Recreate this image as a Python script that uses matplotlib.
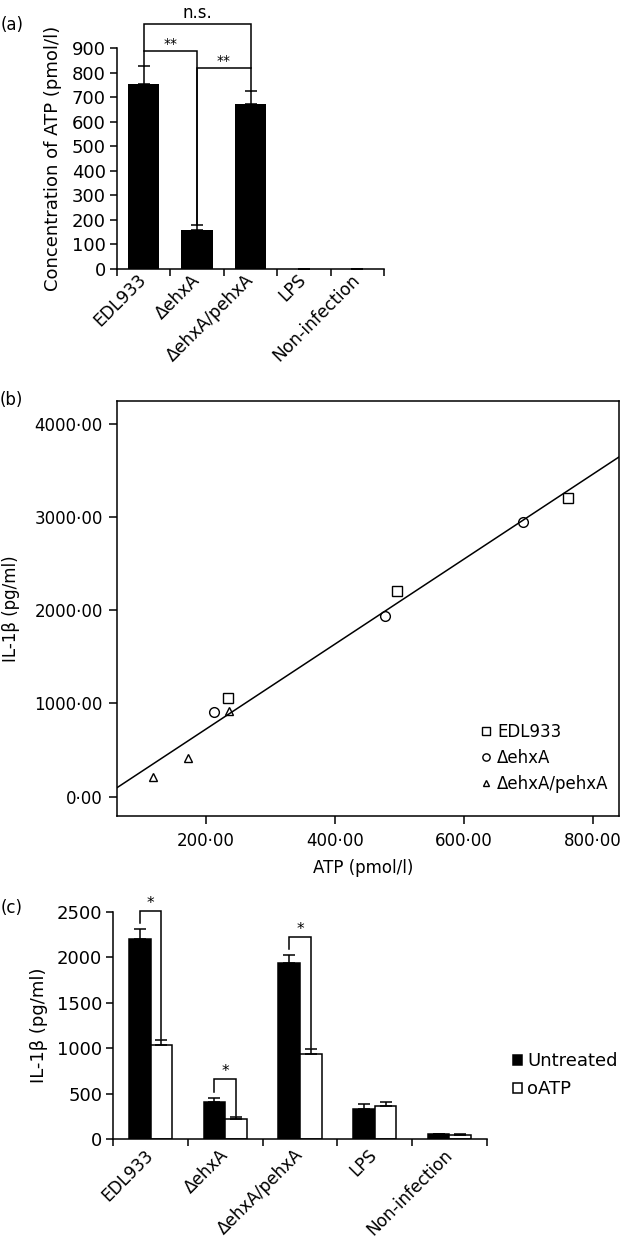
import numpy as np
import matplotlib
matplotlib.use('Agg')
import matplotlib.pyplot as plt
from matplotlib.ticker import FuncFormatter, FixedLocator
from matplotlib.patches import Patch
from matplotlib.transforms import ScaledTranslation

plt.rcParams['font.family'] = ['DejaVu Sans']
plt.rcParams['axes.linewidth'] = 1.1

# (a) ATP
grupos = ['EDL933', 'ΔehxA', 'ΔehxA/pehxA', 'LPS', 'Non-infection']
atp_media = [753, 158, 672, 0, 0]
atp_erro = [73, 20, 53, 0, 0]

# (b) IL-1b vs ATP
atp_edl = [234, 496, 761]
il_edl = [1052, 2207, 3205]
atp_del = [213, 477, 691]
il_del = [905, 1939, 2941]
atp_comp = [119, 173, 236]
il_comp = [214, 417, 916]

# (c) IL-1b com / sem oATP
il_untreated = [2196, 407, 1932, 330, 50]
err_untreated = [110, 48, 95, 51, 4]
il_oatp = [1030, 216, 935, 367, 45]
err_oatp = [59, 26, 58, 44, 5]

W, H = 622, 1242
fig = plt.figure(figsize=(W / 100, H / 100), dpi=100)


def eixo(esq, dir_, topo, base):
    return fig.add_axes([esq / W, 1 - base / H, (dir_ - esq) / W, (base - topo) / H])


def categorias(ax, n, fs, fs_rot, pad, dx):
    ax.set_xlim(-0.5, n - 0.5)
    ax.xaxis.set_major_locator(FixedLocator(np.arange(-0.5, n, 1.0)))
    ax.xaxis.set_major_formatter(FuncFormatter(lambda v, p: ''))
    ax.set_xticks(np.arange(n), minor=True)
    ax.set_xticklabels(grupos, minor=True, rotation=45, ha='right', va='center',
                       rotation_mode='anchor', fontsize=fs_rot)
    for lab in ax.get_xticklabels(minor=True):
        lab.set_transform(lab.get_transform() + ScaledTranslation(dx / 72, 0, fig.dpi_scale_trans))
    ax.tick_params(axis='x', which='minor', length=0, pad=pad)
    ax.tick_params(axis='x', which='major', length=5, width=1.1, direction='out')
    ax.tick_params(axis='y', length=5, width=1.1, direction='out', labelsize=fs, pad=3)
    ax.spines['top'].set_visible(False)
    ax.spines['right'].set_visible(False)


def colchete(ax, x1, x2, y, y1, y2, texto, fs, dy):
    ax.plot([x1, x1, x2, x2], [y1, y, y, y2], color='black', lw=1.1,
            clip_on=False, solid_joinstyle='miter')
    ax.text((x1 + x2) / 2, y + dy, texto, ha='center', va='bottom', fontsize=fs,
            clip_on=False)


# ---------- (a)
ax1 = eixo(117, 384, 48, 269)
x = np.arange(len(grupos))
ax1.bar(x, atp_media, width=0.585, color='black',
        yerr=[np.zeros(len(x)), atp_erro], capsize=4,
        error_kw=dict(ecolor='black', elinewidth=1.1, capthick=1.1))
ax1.set_ylim(0, 900)
ax1.set_yticks(np.arange(0, 901, 100))
categorias(ax1, len(grupos), 13, 12.3, 5.8, 6)
ax1.set_ylabel('Concentration of ATP (pmol/l)', fontsize=13)
ax1.yaxis.set_label_coords(-0.205, 0.5)
topo_a = np.array(atp_media) + np.array(atp_erro)
colchete(ax1, 0, 1, 888, topo_a[0], topo_a[1], '**', 10, 0)
colchete(ax1, 1, 2, 818, topo_a[1], topo_a[2], '**', 10, 0)
colchete(ax1, 0, 2, 997, 888, 818, 'n.s.', 12, 10)

# ---------- (b)
ax2 = eixo(116.7, 618.8, 400.7, 815.7)
ax2.set_xlim(62, 840)
ax2.set_ylim(-205, 4245)
mk = dict(linestyle='none', markerfacecolor='none', markeredgecolor='black',
          markeredgewidth=1.0)
ax2.plot(atp_edl, il_edl, marker='s', markersize=7, label='EDL933', **mk)
ax2.plot(atp_del, il_del, marker='o', markersize=7, label='ΔehxA', **mk)
ax2.plot(atp_comp, il_comp, marker='^', markersize=5.5, label='ΔehxA/pehxA', **mk)
todos_x = np.array(atp_edl + atp_del + atp_comp)
todos_y = np.array(il_edl + il_del + il_comp)
a, b = np.polyfit(todos_x, todos_y, 1)
xl = np.array(ax2.get_xlim())
ax2.plot(xl, a * xl + b, color='black', lw=1.1)
ax2.set_xticks([200, 400, 600, 800])
ax2.set_yticks([0, 1000, 2000, 3000, 4000])
fmt = FuncFormatter(lambda v, p: f'{v:.2f}'.replace('.', '·'))
ax2.xaxis.set_major_formatter(fmt)
ax2.yaxis.set_major_formatter(fmt)
ax2.tick_params(length=6, width=1.1, direction='out', labelsize=12, pad=4)
ax2.tick_params(axis='x', pad=6)
ax2.set_xlabel('ATP (pmol/l)', fontsize=12)
ax2.xaxis.set_label_coords(0.49, -0.105)
ax2.set_ylabel('IL-1β (pg/ml)', fontsize=12)
ax2.yaxis.set_label_coords(-0.193, 0.5)
ax2.legend(loc='lower right', bbox_to_anchor=(1.0, 0.03), frameon=False,
           fontsize=12, markerscale=0.75, handlelength=0.8, handletextpad=0.3,
           labelspacing=0.5, borderaxespad=0.2)

# ---------- (c)
ax3 = eixo(113.3, 486.7, 911.7, 1139)
larg = 0.29
ek = dict(ecolor='black', elinewidth=1.1, capthick=1.1)
zero = np.zeros(len(x))
ax3.bar(x - larg / 2, il_untreated, width=larg, color='black', edgecolor='black',
        linewidth=1.1, yerr=[zero, err_untreated], capsize=4, error_kw=ek,
        label='Untreated')
ax3.bar(x + larg / 2, il_oatp, width=larg, color='white', edgecolor='black',
        linewidth=1.1, yerr=[zero, err_oatp], capsize=4, error_kw=ek, label='oATP')
ax3.set_ylim(0, 2500)
ax3.set_yticks(np.arange(0, 2501, 500))
categorias(ax3, len(grupos), 13, 12.2, 9.5, 12)
ax3.set_ylabel('IL-1β (pg/ml)', fontsize=13)
ax3.yaxis.set_label_coords(-0.175, 0.5)
topo_u = np.array(il_untreated) + np.array(err_untreated)
topo_o = np.array(il_oatp) + np.array(err_oatp)
for i in [0, 1, 2]:
    colchete(ax3, i - larg / 2, i + larg / 2, topo_u[i] + 200, topo_u[i] + 66,
             topo_o[i] + 12, '*', 11, 0)
ax3.legend(handles=[Patch(facecolor='black', edgecolor='black', lw=1.1),
                    Patch(facecolor='white', edgecolor='black', lw=1.1)],
           labels=['Untreated', 'oATP'], loc='center left',
           bbox_to_anchor=(1.05, 0.28), frameon=False, fontsize=13,
           handlelength=0.5, handleheight=0.5, handletextpad=0.3,
           labelspacing=0.55, borderaxespad=0)

# painéis
for txt, px, py in [('(a)', 12, 25), ('(b)', 11, 400), ('(c)', 12, 908)]:
    fig.text(px / W, 1 - py / H, txt, fontsize=12, ha='center', va='center')

fig.savefig('out.png', dpi=100)
